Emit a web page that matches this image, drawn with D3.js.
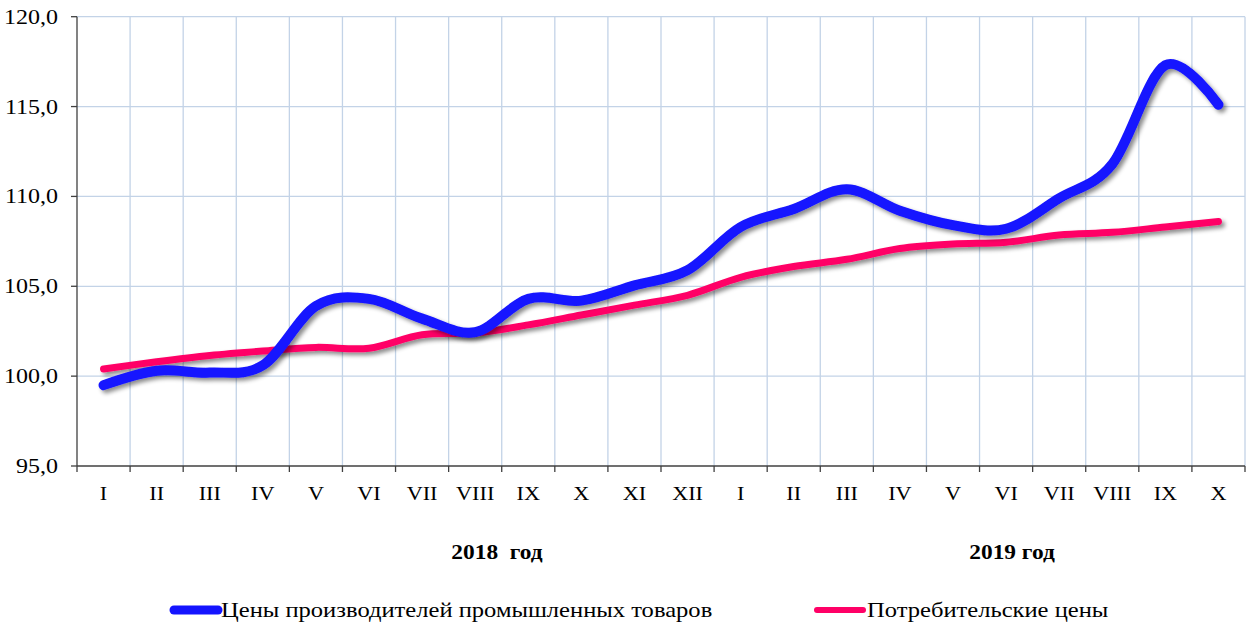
<!DOCTYPE html>
<html><head><meta charset="utf-8">
<script src="https://cdn.jsdelivr.net/npm/d3@7"></script>
<style>body{margin:0;background:#fff}svg{display:block}</style>
</head><body><svg id="c" width="1250" height="628" font-family="'Liberation Serif', 'Times New Roman', Times, 'DejaVu Serif', serif"></svg>
<script>
const months = ["I","II","III","IV","V","VI","VII","VIII","IX","X","XI","XII","I","II","III","IV","V","VI","VII","VIII","IX","X"];
const years = ["2018  год","2019 год"];
const producerPrices = [99.5,100.3,100.2,100.6,103.9,104.3,103.2,102.45,104.3,104.2,105.05,105.9,108.3,109.3,110.4,109.2,108.4,108.2,109.9,111.8,117.3,115.1];
const consumerPrices = [100.4,100.8,101.15,101.4,101.6,101.55,102.3,102.4,102.85,103.4,103.95,104.5,105.5,106.1,106.5,107.1,107.35,107.45,107.85,108.0,108.3,108.6];
const yTicks = [95,100,105,110,115,120];
const seriesNames = ["Цены производителей промышленных товаров","Потребительские цены"];

const FONT = "'Liberation Serif', 'Times New Roman', Times, 'DejaVu Serif', serif";
const SX = 1.17;
const svg = d3.select("#c");
const L=77, R=1245, T=16.7, B=466;
const x = d3.scaleBand().domain(d3.range(months.length)).range([L,R]).padding(0);
const y = d3.scaleLinear().domain([95,120]).range([B,T]);
const cx = i => x(i)+x.bandwidth()/2;

const defs = svg.append("defs");
const f = defs.append("filter").attr("id","sh").attr("x","-10%").attr("y","-10%").attr("width","120%").attr("height","130%");
f.append("feDropShadow").attr("dx",3).attr("dy",3).attr("stdDeviation",2).attr("flood-color","#000").attr("flood-opacity",0.45);

// grid
const grid = svg.append("g").attr("stroke","#c3d3e7").attr("stroke-width",1.3);
yTicks.filter(v=>v>95).forEach(v=>grid.append("line").attr("x1",L).attr("x2",R).attr("y1",y(v)).attr("y2",y(v)));
d3.range(1,months.length+1).forEach(i=>{const xx=L+i*x.bandwidth();grid.append("line").attr("x1",xx).attr("x2",xx).attr("y1",T).attr("y2",B);});

// axes
const ax = svg.append("g").attr("stroke","#404040").attr("stroke-width",1.3);
ax.append("line").attr("x1",L).attr("x2",L).attr("y1",T).attr("y2",B);
ax.append("line").attr("x1",L).attr("x2",R).attr("y1",B).attr("y2",B);
yTicks.forEach(v=>ax.append("line").attr("x1",L-6).attr("x2",L).attr("y1",y(v)).attr("y2",y(v)));
d3.range(0,months.length+1).forEach(i=>{const xx=L+i*x.bandwidth();ax.append("line").attr("x1",xx).attr("x2",xx).attr("y1",B).attr("y2",B+6);});

const tr = (px,py) => `translate(${px},${py}) scale(${SX},1)`;
const fmt = v => d3.format(".1f")(v).replace(".",",");
svg.append("g").selectAll("text").data(yTicks).join("text").attr("font-family",FONT)
  .attr("transform",v=>tr(58,y(v)+7)).attr("text-anchor","end").attr("font-size",20.5).text(fmt);
svg.append("g").selectAll("text").data(months).join("text").attr("font-family",FONT)
  .attr("transform",(d,i)=>tr(cx(i),500)).attr("text-anchor","middle").attr("font-size",19).text(d=>d);
svg.append("g").selectAll("text").data(years).join("text").attr("font-family",FONT)
  .attr("transform",(d,i)=>tr(i===0?497:1012,559)).attr("text-anchor","middle").attr("font-size",20).attr("font-weight","bold").style("white-space","pre").text(d=>d);

const line = d3.line().x((d,i)=>cx(i)).y(d=>y(d)).curve(d3.curveCatmullRom.alpha(0));
svg.append("path").datum(consumerPrices).attr("d",line).attr("fill","none").attr("stroke","#ff0066").attr("stroke-width",7).attr("stroke-linecap","round").attr("filter","url(#sh)");
svg.append("path").datum(producerPrices).attr("d",line).attr("fill","none").attr("stroke","#1414ff").attr("stroke-width",10).attr("stroke-linecap","round").attr("filter","url(#sh)");

// legend
const lg = svg.append("g");
lg.append("line").attr("x1",174).attr("x2",218).attr("y1",610).attr("y2",610).attr("stroke","#1414ff").attr("stroke-width",9).attr("stroke-linecap","round");
lg.append("text").attr("font-family",FONT).attr("transform",tr(221,617)).attr("font-size",21).text(seriesNames[0]);
lg.append("line").attr("x1",817).attr("x2",863).attr("y1",610).attr("y2",610).attr("stroke","#ff0066").attr("stroke-width",6).attr("stroke-linecap","round");
lg.append("text").attr("font-family",FONT).attr("transform",tr(867,617)).attr("font-size",21).text(seriesNames[1]);
</script></body></html>
